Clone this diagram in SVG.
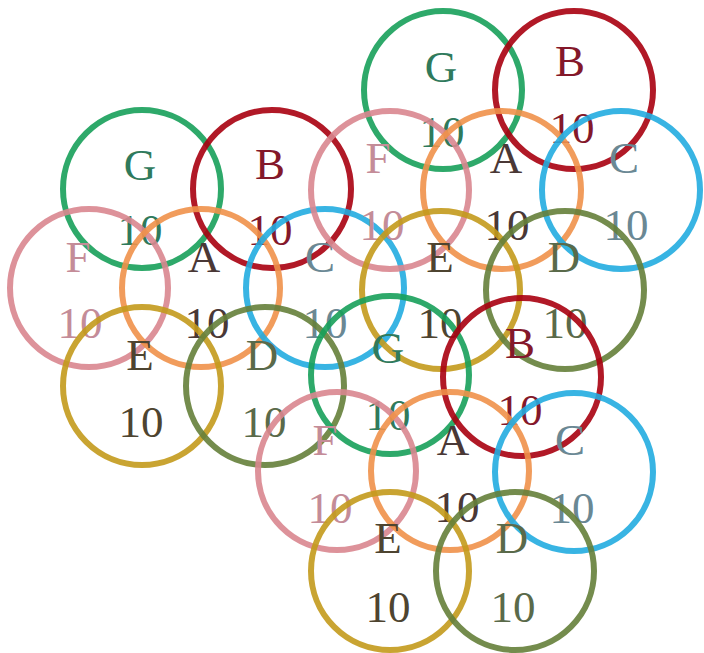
<svg xmlns="http://www.w3.org/2000/svg" width="704" height="653" viewBox="0 0 704 653">
<style>
text{font-family:"Liberation Serif","DejaVu Serif",serif;font-size:45px;text-anchor:middle}
circle{fill:none;stroke-width:6;stroke-opacity:0.9}
.g circle{stroke:#17a05a}.g text{fill:#2f7a5c}
.b circle{stroke:#a8000f}.b text{fill:#84182a}
.f circle{stroke:#d9868f}.f text{fill:#c48c98}
.a circle{stroke:#f0914a}.a text{fill:#4a3836}
.c circle{stroke:#22ace0}.c text{fill:#6a8894}
.e circle{stroke:#c39a1c}.e text{fill:#4e4430}
.d circle{stroke:#65803a}.d text{fill:#5a6a4a}
</style>
<rect width="704" height="653" fill="#fff"/>
<g id="group1">
<g id="n1G" class="g"><text x="140" y="180">G</text><text x="140" y="245">10</text><circle cx="142" cy="189" r="79"/></g>
<g id="n1B" class="b"><text x="270" y="179">B</text><text x="270" y="245">10</text><circle cx="272" cy="189" r="79"/></g>
<g id="n1F" class="f"><text x="78" y="272">F</text><text x="80" y="338">10</text><circle cx="89" cy="288" r="79"/></g>
<g id="n1A" class="a"><text x="204" y="272">A</text><text x="207" y="338">10</text><circle cx="201" cy="288" r="79"/></g>
<g id="n1C" class="c"><text x="320" y="272">C</text><text x="325" y="338">10</text><circle cx="325" cy="288" r="79"/></g>
<g id="n1E" class="e"><text x="140" y="370">E</text><text x="141" y="437">10</text><circle cx="142" cy="386" r="79"/></g>
<g id="n1D" class="d"><text x="262" y="370">D</text><text x="264" y="437">10</text><circle cx="265" cy="386" r="79"/></g>
</g>
<g id="group2">
<g id="n2G" class="g"><text x="441" y="82">G</text><text x="442" y="147">10</text><circle cx="443" cy="90" r="79"/></g>
<g id="n2B" class="b"><text x="570" y="76">B</text><text x="572" y="143">10</text><circle cx="574" cy="90" r="79"/></g>
<g id="n2F" class="f"><text x="378" y="173">F</text><text x="382" y="240">10</text><circle cx="390" cy="190" r="79"/></g>
<g id="n2A" class="a"><text x="506" y="173">A</text><text x="507" y="240">10</text><circle cx="502" cy="190" r="79"/></g>
<g id="n2C" class="c"><text x="624" y="173">C</text><text x="626" y="240">10</text><circle cx="621" cy="190" r="79"/></g>
<g id="n2E" class="e"><text x="440" y="272">E</text><text x="440" y="338">10</text><circle cx="441" cy="290" r="79"/></g>
<g id="n2D" class="d"><text x="564" y="272">D</text><text x="565" y="338">10</text><circle cx="565" cy="290" r="79"/></g>
</g>
<g id="group3">
<g id="n3G" class="g"><text x="388" y="363">G</text><text x="388" y="430">10</text><circle cx="390" cy="375" r="79"/></g>
<g id="n3B" class="b"><text x="520" y="358">B</text><text x="520" y="425">10</text><circle cx="522" cy="377" r="79"/></g>
<g id="n3F" class="f"><text x="325" y="455">F</text><text x="330" y="523">10</text><circle cx="337" cy="471" r="79"/></g>
<g id="n3A" class="a"><text x="453" y="455">A</text><text x="457" y="522">10</text><circle cx="450" cy="471" r="79"/></g>
<g id="n3C" class="c"><text x="570" y="455">C</text><text x="572" y="523">10</text><circle cx="574" cy="472" r="79"/></g>
<g id="n3E" class="e"><text x="388" y="553">E</text><text x="388" y="622">10</text><circle cx="390" cy="571" r="79"/></g>
<g id="n3D" class="d"><text x="512" y="553">D</text><text x="513" y="622">10</text><circle cx="515" cy="571" r="79"/></g>
</g>
<g id="connectors"/>
</svg>
